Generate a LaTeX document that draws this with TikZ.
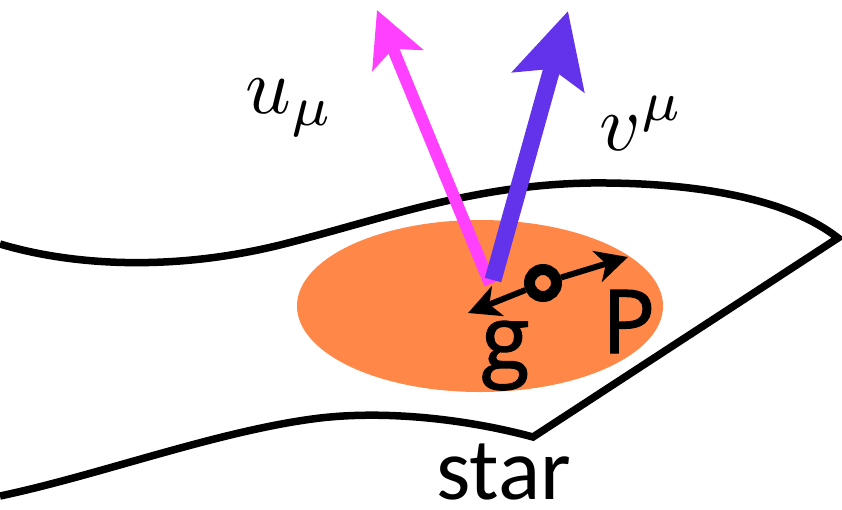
\documentclass[tikz,border=0pt]{standalone}
\usepackage{fontspec}
\newfontfamily\opensans[FakeBold=1.6]{Open Sans}
\newfontfamily\carlito{Carlito}
\usetikzlibrary{arrows.meta}
\definecolor{pinkarrow}{HTML}{FF40FF}
\definecolor{purplearrow}{HTML}{6233EA}
\definecolor{orangeblob}{HTML}{FF8848}
\tikzset{
  outline/.style={line width=7.5pt, line join=miter},
  smallarrow/.style={line width=6pt, -{Stealth[length=32pt,width=32pt,inset=9pt]}},
  letter/.style={anchor=base west, inner sep=0pt, font={\opensans\fontsize{88}{100}\selectfont}},
}
\begin{document}
\begin{tikzpicture}[x=1pt,y=-1pt]
\useasboundingbox (0,0) rectangle (842,509);
% star outline
\draw[outline] (0,244) .. controls (70,265) and (170,272) .. (280,245)
  .. controls (380,220) and (470,185) .. (590,183)
  .. controls (700,182) and (790,200) .. (838,238)
  -- (533,437)
  .. controls (470,420) and (390,410) .. (320,418)
  .. controls (220,430) and (100,475) .. (0,496);
% orange region
\fill[orangeblob] (480,306) ellipse [x radius=183, y radius=86];
% vectors
\coordinate (ubase) at (490,284);
\coordinate (utip) at (377,10);
\coordinate (vbase) at (493,280);
\coordinate (vtip) at (568,11);
\draw[pinkarrow, line width=12pt, -{Stealth[length=54pt,width=54pt,inset=12pt]}] (ubase) -- (utip);
\draw[purplearrow, line width=17pt, -{Stealth[length=73pt,width=73pt,inset=13pt]}] (vbase) -- (vtip);
% small dipole
\node[circle, draw, line width=11pt, minimum size=27pt, inner sep=0pt] (dot) at (543,283) {};
\coordinate (ptip) at (628,257);
\coordinate (gtip) at (468,313);
\draw[smallarrow] (dot) -- (ptip);
\draw[smallarrow] (dot) -- (gtip);
% labels
\node[scale=8, anchor=base west, inner sep=0pt] (ulab) at (244,113) {$u_\mu$};
\node[scale=8, anchor=base west, inner sep=0pt] (vlab) at (598,150) {$v^\mu$};
\node[letter] (glab) at (481,369) {g};
\node[letter] (plab) at (602,353) {P};
\node[anchor=base west, inner sep=0pt, font={\carlito\fontsize{88}{100}\selectfont}] (starlab) at (436,499) {star};
\end{tikzpicture}
\end{document}
